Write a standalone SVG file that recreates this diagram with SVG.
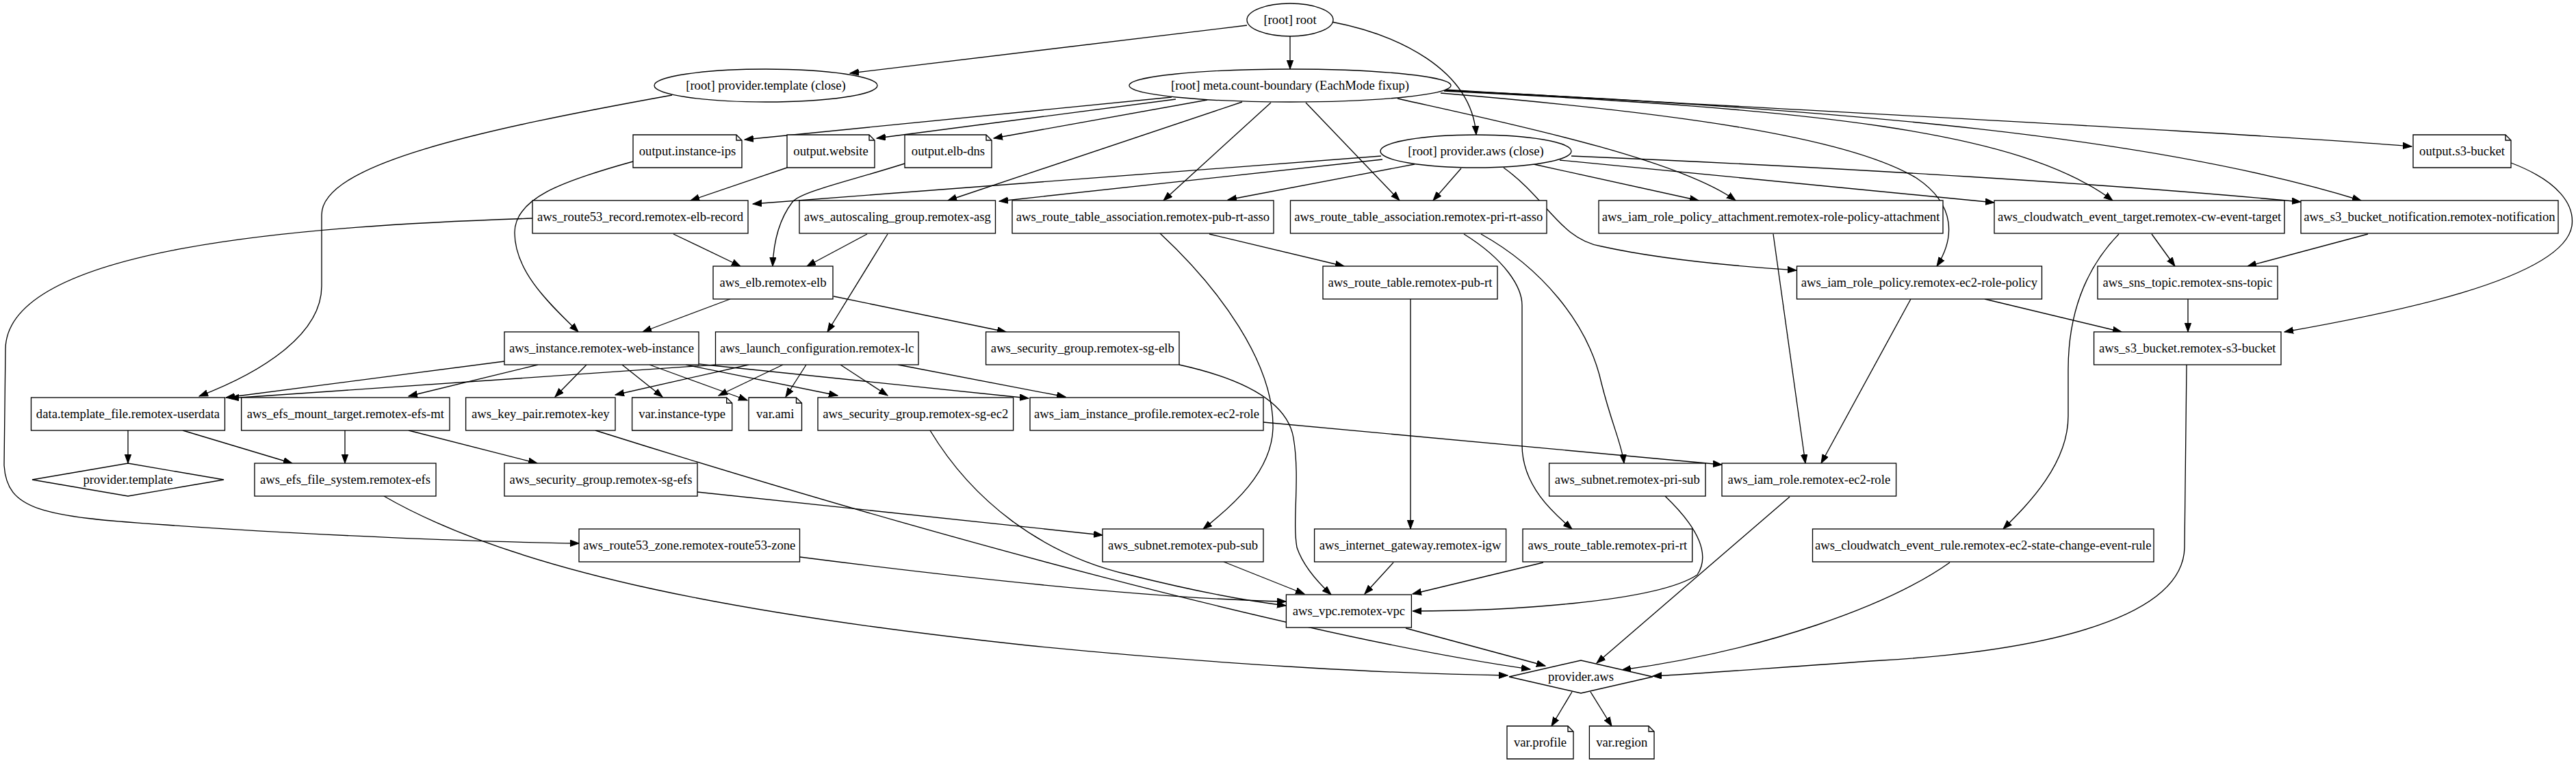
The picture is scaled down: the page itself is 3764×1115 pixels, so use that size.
<svg xmlns="http://www.w3.org/2000/svg" width="3764" height="1115" viewBox="0 0 3764 1115">
<defs>
<style>
.n rect,.n polygon,.n ellipse{fill:#fff;stroke:#000;stroke-width:1.33}
.n polyline{fill:none;stroke:#000;stroke-width:1.33}
.n text{font-family:"Liberation Serif","Times New Roman",serif;font-size:18.67px;text-anchor:middle;fill:#000}
#edges path{fill:none;stroke:#000;stroke-width:1.33;marker-end:url(#ah)}
</style>
<marker id="ah" markerWidth="14" markerHeight="11" refX="13" refY="5" orient="auto" markerUnits="userSpaceOnUse">
<path d="M0,0.3 L13,5 L0,9.7 z" fill="#000" stroke="#000" stroke-width="1"/>
</marker>
</defs>
<rect width="3764" height="1115" fill="#fff"/>
<g id="edges">
<path d="M1822,37 L1242,107"/>
<path d="M1885,53 L1885,101"/>
<path d="M1946,32 C2040,50 2150,100 2157,197"/>
<path d="M982,139 C700,190 470,240 470,314 L470,418 C470,490 380,545 291,579"/>
<path d="M1712,142 L1088,204"/>
<path d="M1718,145 L1281,202"/>
<path d="M1764,146 L1452,202"/>
<path d="M1815,149 L1385,293"/>
<path d="M1857,150 L1700,293"/>
<path d="M1908,150 L2045,293"/>
<path d="M2042,144 C2180,175 2450,230 2536,293"/>
<path d="M2105,136 C2450,165 2700,200 2800,260 C2860,300 2855,350 2830,389"/>
<path d="M2110,131 C2600,160 3300,195 3524,214"/>
<path d="M2110,132 C2700,160 3150,200 3450,293"/>
<path d="M2110,133 C2650,160 2950,190 3087,293"/>
<path d="M2018,228 L1100,298"/>
<path d="M2020,233 L1460,294"/>
<path d="M2067,240 L1794,292"/>
<path d="M2135,246 L2094,293"/>
<path d="M2241,240 L2482,293"/>
<path d="M2197,245 C2260,290 2280,350 2340,360 C2430,380 2550,390 2625,395"/>
<path d="M2279,234 L2914,296"/>
<path d="M2296,228 C2700,245 3100,270 3362,295"/>
<path d="M925,236 C820,265 752,290 752,340 C752,400 810,450 845,485"/>
<path d="M1150,245 L1009,293"/>
<path d="M1322,239 C1240,265 1170,280 1158,295 C1135,325 1130,360 1129,389"/>
<path d="M3669,238 C3740,265 3762,300 3758,330 C3745,410 3480,460 3338,485"/>
<path d="M984,342 L1082,389"/>
<path d="M778,319 C450,330 10,360 8,510 L6,680 C10,745 60,755 242,767 C450,782 700,792 846,794"/>
<path d="M1267,342 L1179,389"/>
<path d="M1297,342 L1209,485"/>
<path d="M1767,342 L1964,389"/>
<path d="M1695,341 C1780,420 1862,530 1860,626 C1858,690 1800,740 1758,773"/>
<path d="M2164,342 C2250,390 2320,470 2340,560 C2355,620 2370,650 2373,677"/>
<path d="M2139,342 C2200,380 2224,420 2224,446 L2224,650 C2224,710 2270,750 2297,773"/>
<path d="M2591,342 L2638,677"/>
<path d="M3144,342 L3178,389"/>
<path d="M3096,342 C3040,400 3022,470 3022,540 L3022,608 C3022,680 2960,740 2927,773"/>
<path d="M3460,342 L3284,389"/>
<path d="M3195,533 L3192,800 C3190,900 3000,950 2750,965 C2600,975 2480,985 2415,988"/>
<path d="M3197,437 L3197,485"/>
<path d="M2900,437 L3100,485"/>
<path d="M2792,437 L2661,677"/>
<path d="M1067,437 L939,485"/>
<path d="M1218,433 L1470,485"/>
<path d="M1723,533 C1800,550 1880,580 1890,640 C1900,700 1888,760 1895,800 C1905,830 1930,855 1945,869"/>
<path d="M1046,533 L336,582"/>
<path d="M737,528 L330,581"/>
<path d="M786,533 L597,579"/>
<path d="M857,533 L811,580"/>
<path d="M909,533 L968,580"/>
<path d="M949,533 L1092,585"/>
<path d="M1002,533 L1224,578"/>
<path d="M1021,532 L1503,582"/>
<path d="M1094,533 L899,577"/>
<path d="M1144,533 L1050,578"/>
<path d="M1178,533 L1148,580"/>
<path d="M1228,533 L1297,578"/>
<path d="M1312,533 L1557,580"/>
<path d="M187,629 L187,677"/>
<path d="M267,629 L427,677"/>
<path d="M504,629 L504,677"/>
<path d="M597,629 L785,677"/>
<path d="M870,629 C1350,780 1900,930 2236,978"/>
<path d="M561,725 C760,840 1100,900 1500,943 C1800,973 2050,985 2203,987"/>
<path d="M1019,719 L1611,782"/>
<path d="M1359,629 C1420,730 1520,810 1650,840 C1750,865 1820,878 1879,885"/>
<path d="M1169,814 C1450,850 1700,875 1879,879"/>
<path d="M1788,821 L1906,868"/>
<path d="M2036,822 L1994,868"/>
<path d="M2255,822 L2064,868"/>
<path d="M2433,725 C2480,770 2500,810 2480,840 C2420,880 2200,893 2064,893"/>
<path d="M2061,437 L2061,773"/>
<path d="M1846,617 L2516,679"/>
<path d="M2615,726 L2333,969"/>
<path d="M2849,822 C2760,885 2580,950 2370,979"/>
<path d="M2054,918 L2258,973"/>
<path d="M2297,1011 L2267,1061"/>
<path d="M2324,1011 L2355,1061"/>
</g>
<g id="root" class="n"><ellipse cx="1885" cy="29" rx="63" ry="24"/><text x="1885" y="35">[root] root</text></g>
<g id="provider_template_close" class="n"><ellipse cx="1119" cy="125" rx="163" ry="24"/><text x="1119" y="131">[root] provider.template (close)</text></g>
<g id="meta_count_boundary" class="n"><ellipse cx="1885" cy="125" rx="235" ry="24"/><text x="1885" y="131">[root] meta.count-boundary (EachMode fixup)</text></g>
<g id="output_instance_ips" class="n"><polygon points="925,197 1076,197 1084,205 1084,245 925,245"/><polyline points="1076,197 1076,205 1084,205"/><text x="1004.5" y="227">output.instance-ips</text></g>
<g id="output_website" class="n"><polygon points="1150,197 1270,197 1278,205 1278,245 1150,245"/><polyline points="1270,197 1270,205 1278,205"/><text x="1214" y="227">output.website</text></g>
<g id="output_elb_dns" class="n"><polygon points="1322,197 1441,197 1449,205 1449,245 1322,245"/><polyline points="1441,197 1441,205 1449,205"/><text x="1385.5" y="227">output.elb-dns</text></g>
<g id="provider_aws_close" class="n"><ellipse cx="2156.5" cy="221" rx="139.5" ry="24"/><text x="2156.5" y="227">[root] provider.aws (close)</text></g>
<g id="output_s3_bucket" class="n"><polygon points="3526,197 3661,197 3669,205 3669,245 3526,245"/><polyline points="3661,197 3661,205 3669,205"/><text x="3597.5" y="227">output.s3-bucket</text></g>
<g id="aws_route53_record" class="n"><rect x="778" y="293" width="315" height="48"/><text x="935.5" y="323">aws_route53_record.remotex-elb-record</text></g>
<g id="aws_autoscaling_group" class="n"><rect x="1168" y="293" width="286.5" height="48"/><text x="1311.25" y="323">aws_autoscaling_group.remotex-asg</text></g>
<g id="aws_rta_pub" class="n"><rect x="1479" y="293" width="382" height="48"/><text x="1670" y="323">aws_route_table_association.remotex-pub-rt-asso</text></g>
<g id="aws_rta_pri" class="n"><rect x="1885.5" y="293" width="374.5" height="48"/><text x="2072.75" y="323">aws_route_table_association.remotex-pri-rt-asso</text></g>
<g id="aws_iam_role_policy_attachment" class="n"><rect x="2336" y="293" width="503" height="48"/><text x="2587.5" y="323">aws_iam_role_policy_attachment.remotex-role-policy-attachment</text></g>
<g id="aws_cloudwatch_event_target" class="n"><rect x="2914" y="293" width="424" height="48"/><text x="3126" y="323">aws_cloudwatch_event_target.remotex-cw-event-target</text></g>
<g id="aws_s3_bucket_notification" class="n"><rect x="3362" y="293" width="376" height="48"/><text x="3550" y="323">aws_s3_bucket_notification.remotex-notification</text></g>
<g id="aws_elb" class="n"><rect x="1042" y="389" width="175" height="48"/><text x="1129.5" y="419">aws_elb.remotex-elb</text></g>
<g id="aws_route_table_pub" class="n"><rect x="1933" y="389" width="255" height="48"/><text x="2060.5" y="419">aws_route_table.remotex-pub-rt</text></g>
<g id="aws_iam_role_policy" class="n"><rect x="2625.5" y="389" width="358" height="48"/><text x="2804.5" y="419">aws_iam_role_policy.remotex-ec2-role-policy</text></g>
<g id="aws_sns_topic" class="n"><rect x="3065" y="389" width="263" height="48"/><text x="3196.5" y="419">aws_sns_topic.remotex-sns-topic</text></g>
<g id="aws_instance" class="n"><rect x="737" y="485" width="284" height="48"/><text x="879" y="515">aws_instance.remotex-web-instance</text></g>
<g id="aws_launch_configuration" class="n"><rect x="1045.5" y="485" width="296.5" height="48"/><text x="1193.75" y="515">aws_launch_configuration.remotex-lc</text></g>
<g id="aws_sg_elb" class="n"><rect x="1440.6" y="485" width="282.4" height="48"/><text x="1581.8" y="515">aws_security_group.remotex-sg-elb</text></g>
<g id="aws_s3_bucket" class="n"><rect x="3059.6" y="485" width="273.4" height="48"/><text x="3196.3" y="515">aws_s3_bucket.remotex-s3-bucket</text></g>
<g id="data_template_file" class="n"><rect x="45.5" y="581" width="283" height="48"/><text x="187" y="611">data.template_file.remotex-userdata</text></g>
<g id="aws_efs_mount_target" class="n"><rect x="352.7" y="581" width="304.3" height="48"/><text x="504.85" y="611">aws_efs_mount_target.remotex-efs-mt</text></g>
<g id="aws_key_pair" class="n"><rect x="680.6" y="581" width="218.4" height="48"/><text x="789.8" y="611">aws_key_pair.remotex-key</text></g>
<g id="var_instance_type" class="n"><polygon points="923.6,581 1061.7,581 1069.7,589 1069.7,629 923.6,629"/><polyline points="1061.7,581 1061.7,589 1069.7,589"/><text x="996.65" y="611">var.instance-type</text></g>
<g id="var_ami" class="n"><polygon points="1094,581 1163.5,581 1171.5,589 1171.5,629 1094,629"/><polyline points="1163.5,581 1163.5,589 1171.5,589"/><text x="1132.75" y="611">var.ami</text></g>
<g id="aws_sg_ec2" class="n"><rect x="1195" y="581" width="285.6" height="48"/><text x="1337.8" y="611">aws_security_group.remotex-sg-ec2</text></g>
<g id="aws_iam_instance_profile" class="n"><rect x="1505" y="581" width="341" height="48"/><text x="1675.5" y="611">aws_iam_instance_profile.remotex-ec2-role</text></g>
<g id="provider_template" class="n"><polygon points="47,701 187,677 327,701 187,725"/><text x="187" y="707">provider.template</text></g>
<g id="aws_efs_file_system" class="n"><rect x="372" y="677" width="265" height="48"/><text x="504.5" y="707">aws_efs_file_system.remotex-efs</text></g>
<g id="aws_sg_efs" class="n"><rect x="737" y="677" width="282" height="48"/><text x="878" y="707">aws_security_group.remotex-sg-efs</text></g>
<g id="aws_subnet_pri" class="n"><rect x="2263.6" y="677" width="228.4" height="48"/><text x="2377.8" y="707">aws_subnet.remotex-pri-sub</text></g>
<g id="aws_iam_role" class="n"><rect x="2516" y="677" width="254.6" height="48"/><text x="2643.3" y="707">aws_iam_role.remotex-ec2-role</text></g>
<g id="aws_route53_zone" class="n"><rect x="846" y="773" width="322.5" height="48"/><text x="1007.25" y="803">aws_route53_zone.remotex-route53-zone</text></g>
<g id="aws_subnet_pub" class="n"><rect x="1611" y="773" width="235" height="48"/><text x="1728.5" y="803">aws_subnet.remotex-pub-sub</text></g>
<g id="aws_internet_gateway" class="n"><rect x="1920.6" y="773" width="280" height="48"/><text x="2060.6" y="803">aws_internet_gateway.remotex-igw</text></g>
<g id="aws_route_table_pri" class="n"><rect x="2225" y="773" width="247.7" height="48"/><text x="2348.85" y="803">aws_route_table.remotex-pri-rt</text></g>
<g id="aws_cloudwatch_event_rule" class="n"><rect x="2648.5" y="773" width="498.5" height="48"/><text x="2897.75" y="803">aws_cloudwatch_event_rule.remotex-ec2-state-change-event-rule</text></g>
<g id="aws_vpc" class="n"><rect x="1879.4" y="869" width="183" height="48"/><text x="1970.9" y="899">aws_vpc.remotex-vpc</text></g>
<g id="provider_aws" class="n"><polygon points="2205,989 2310,965 2415,989 2310,1013"/><text x="2310" y="995">provider.aws</text></g>
<g id="var_profile" class="n"><polygon points="2202,1061 2291,1061 2299,1069 2299,1109 2202,1109"/><polyline points="2291,1061 2291,1069 2299,1069"/><text x="2250.5" y="1091">var.profile</text></g>
<g id="var_region" class="n"><polygon points="2322.4,1061 2409,1061 2417,1069 2417,1109 2322.4,1109"/><polyline points="2409,1061 2409,1069 2417,1069"/><text x="2369.7" y="1091">var.region</text></g>
</svg>
